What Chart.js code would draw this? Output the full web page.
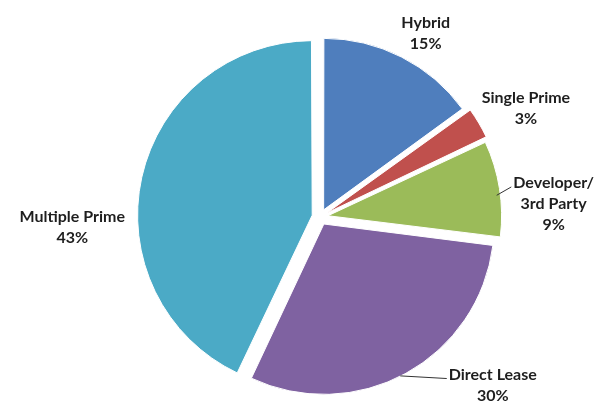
<!DOCTYPE html>
<html>
<head>
<meta charset="utf-8">
<script src="https://cdn.jsdelivr.net/npm/chart.js@4"></script>
<style>
  html, body { margin: 0; padding: 0; background: #fff; }
</style>
</head>
<body>
<canvas id="pie" width="606" height="401"></canvas>
<script>
// slices go clockwise from 12 o'clock
const LABELS = ["Hybrid", "Single Prime", "Developer/\n3rd Party", "Direct Lease", "Multiple Prime"];
const SHARES = [15, 3, 9, 30, 43];
const COLORS = ["#4F7EBD", "#C0504D", "#9BBB59", "#7F62A1", "#4BAAC6"];

// where each label sits: angle tweak (deg) from slice middle, distance from centre
const LABEL_LAYOUT = [
  { shift: 2.9,  dist: 212, leader: false },
  { shift: 2.7,  dist: 233, leader: false },
  { shift: 5.8,  dist: 234, leader: true, leadShift: 2 },
  { shift: -17,  dist: 241, leader: true, leadShift: 2 },
  { shift: -15,  dist: 248, leader: false }
];

const FONT = "bold 16px Lato, 'Open Sans', sans-serif";
const LINE_H = 21;
const EXPLODE = 8; // px each slice is pulled out (chart.js v4 divides offset by 4)

/* ---------------- LABEL PLUGIN ---------------- */

const sliceLabels = {
  id: "sliceLabels",
  afterDraw(chart) {
    const ctx = chart.ctx;
    const meta = chart.getDatasetMeta(0);

    ctx.save();
    ctx.font = FONT;
    ctx.fillStyle = "#1e1e1e";
    ctx.textAlign = "center";
    ctx.textBaseline = "middle";
    ctx.strokeStyle = "#333";
    ctx.lineWidth = 1;

    meta.data.forEach((arc, i) => {
      const lay = LABEL_LAYOUT[i];
      const mid = (arc.startAngle + arc.endAngle) / 2;
      const a = mid + lay.shift * Math.PI / 180;
      const cx = arc.x + Math.cos(a) * lay.dist;
      const cy = arc.y + Math.sin(a) * lay.dist;

      const lines = LABELS[i].split("\n").concat([SHARES[i] + "%"]);
      const top = cy - (lines.length - 1) * LINE_H / 2;
      lines.forEach((t, k) => ctx.fillText(t, cx, top + k * LINE_H));

      if (lay.leader) {
        const la = mid + lay.leadShift * Math.PI / 180;
        const r = arc.outerRadius + EXPLODE;
        const sx = arc.x + Math.cos(la) * r;
        const sy = arc.y + Math.sin(la) * r;
        const w = ctx.measureText(lines[0]).width;
        const ex = cx - w / 2 - 2;
        const ey = top + 4;
        ctx.beginPath();
        ctx.moveTo(sx, sy);
        ctx.lineTo(ex, ey);
        ctx.stroke();
      }
    });
    ctx.restore();
  }
};

/* ---------------- CHART ---------------- */

new Chart(document.getElementById("pie"), {
  type: "pie",
  data: {
    labels: LABELS,
    datasets: [{
      data: SHARES,
      backgroundColor: COLORS,
      borderColor: "#ffffff",
      borderWidth: 1,
      offset: EXPLODE * 4
    }]
  },
  options: {
    responsive: false,
    animation: false,
    radius: 170,
    layout: { padding: { left: 34, right: 0, top: 33, bottom: 0 } },
    plugins: {
      legend: { display: false },
      tooltip: { enabled: false }
    }
  },
  plugins: [sliceLabels]
});
</script>
</body>
</html>
